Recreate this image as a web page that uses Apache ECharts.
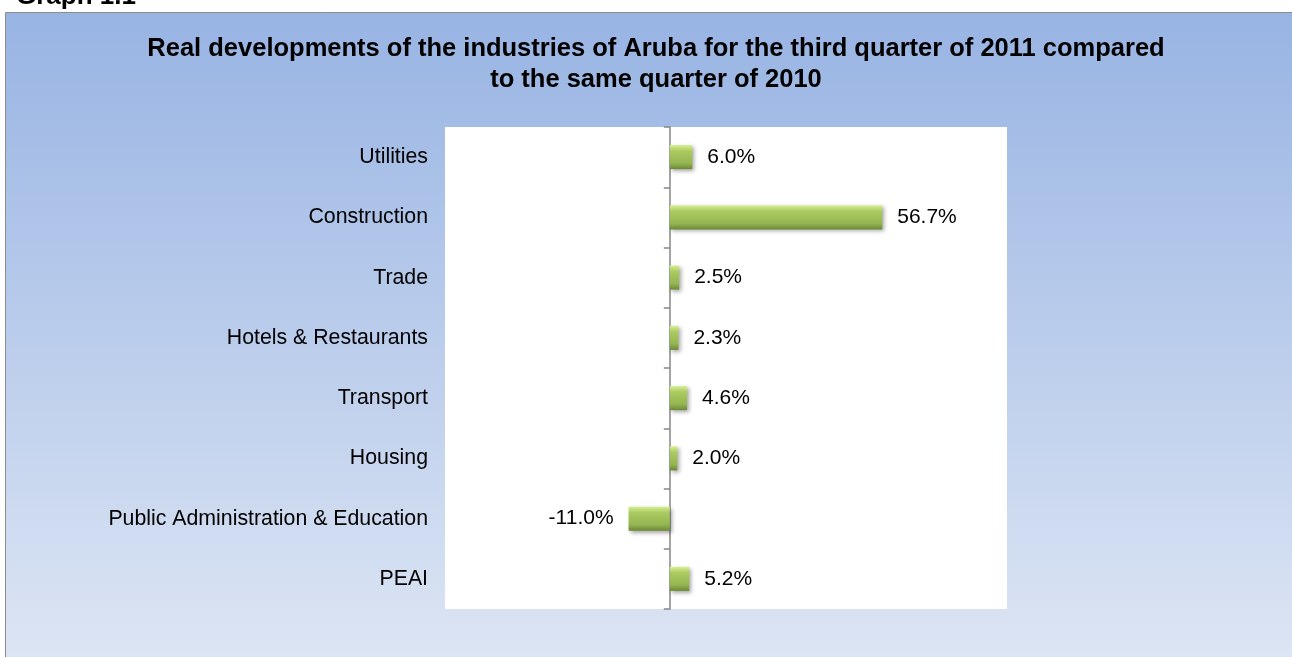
<!DOCTYPE html>
<html>
<head>
<meta charset="utf-8">
<script src="https://cdn.jsdelivr.net/npm/echarts@6/dist/echarts.min.js"></script>
<style>
  html, body { margin: 0; padding: 0; background: #fff; }
  #chart { width: 1292px; height: 657px; }
</style>
</head>
<body>
<div id="chart"></div>
<script>
const industries = [
    "Utilities",
    "Construction",
    "Trade",
    "Hotels & Restaurants",
    "Transport",
    "Housing",
    "Public Administration & Education",
    "PEAI",
];
const growth = [6.0, 56.7, 2.5, 2.3, 4.6, 2.0, -11.0, 5.2];

const FONT = "Liberation Sans, Arial, sans-serif";

/* green bevelled bar look */
const barColor = new echarts.graphic.LinearGradient(0, 0, 0, 1, [
    { offset: 0, color: "#d6ef92" },
    { offset: 0.25, color: "#abca60" },
    { offset: 0.75, color: "#95b552" },
    { offset: 1, color: "#6c8836" },
]);

// negative bars get their label on the left
const barData = growth.map(function (v) {
    return {
        value: v,
        label: { position: v < 0 ? "left" : "right" },
    };
});

let myChart = echarts.init(document.getElementById("chart"));
option = {
    animation: false,
    graphic: [
        {
            type: "text",
            z: -20,
            style: {
                x: 16,
                y: 10,
                text: "Graph 1.1",
                font: "bold 26px " + FONT,
                fill: "#000",
                verticalAlign: "bottom",
            },
        },
        {
            type: "rect",
            shape: { x: 5.5, y: 12.5, width: 1320, height: 700 },
            style: {
                fill: new echarts.graphic.LinearGradient(0, 0, 0, 1, [
                    { offset: 0, color: "#98b4e3" },
                    { offset: 1, color: "#e2e9f5" },
                ]),
                stroke: "#8c8c8c",
                lineWidth: 1,
            },
            z: -10,
        },
        {
            type: "text",
            style: {
                x: 656,
                y: 33,
                text: "Real developments of the industries of Aruba for the third quarter of 2011 compared\nto the same quarter of 2010",
                font: "bold 25.5px " + FONT,
                fill: "#000",
                align: "center",
                verticalAlign: "top",
                lineHeight: 31,
            },
        },
    ],
    grid: {
        left: 445,
        right: 285,
        top: 127,
        bottom: 48,
        show: true,
        backgroundColor: "#ffffff",
        borderWidth: 0,
    },
    xAxis: {
        type: "value",
        min: -60,
        max: 90,
        show: false,
        splitLine: { show: false },
    },
    yAxis: [
        {
            type: "category",
            data: industries,
            inverse: true,
            axisLine: { show: false, onZero: false },
            axisTick: { show: false },
            axisLabel: { margin: 17, fontSize: 21.3, fontFamily: FONT, color: "#000" },
        },
        {
            type: "category",
            data: industries,
            inverse: true,
            position: "left",
            axisLine: { show: true, onZero: true, lineStyle: { color: "#868686", width: 1.5 } },
            axisTick: {
                show: true,
                inside: false,
                length: 6,
                interval: 0,
                lineStyle: { color: "#868686", width: 1.5 },
            },
            axisLabel: { show: false },
        },
    ],
    series: [
        {
            name: "Growth",
            type: "bar",
            yAxisIndex: 0,
            barWidth: 24,
            data: barData,
            itemStyle: {
                color: barColor,
                shadowColor: "rgba(0,0,0,0.35)",
                shadowBlur: 4,
                shadowOffsetX: 2,
                shadowOffsetY: 2,
            },
            label: {
                show: true,
                distance: 15,
                fontSize: 21,
                fontFamily: FONT,
                color: "#000",
                formatter: function (p) {
                    return p.value.toFixed(1) + "%";
                },
            },
        },
    ],
};
myChart.setOption(option);
window.addEventListener("resize", function () {
    myChart.resize();
});
</script>
</body>
</html>
